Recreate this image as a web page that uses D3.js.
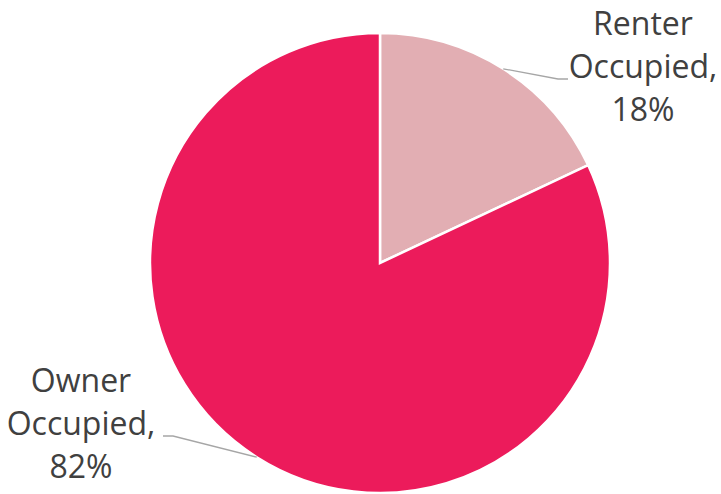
<!DOCTYPE html>
<html>
<head>
<meta charset="utf-8">
<script src="https://cdn.jsdelivr.net/npm/d3@7/dist/d3.min.js"></script>
<style>
  body { margin: 0; background: #fff; }
  text { font-family: "Open Sans", "Noto Sans", sans-serif; fill: #404040; }
</style>
</head>
<body>
<svg id="chart" width="721" height="494"></svg>
<script>
// data
const categories = ["Renter Occupied", "Owner Occupied"]
const values = [18, 82]
const colors = ["#e2aeb3", "#ec1b5b"]

const svg = d3.select("#chart")
const cx = 380, cy = 263, radius = 230

const body = svg.append("g").attr("transform", `translate(${cx},${cy})`)

const pie = d3.pie().sort(null).value(d => d.value)
const arcs = pie(categories.map((c, i) => ({ name: c, value: values[i], color: colors[i] })))

const arc = d3.arc().innerRadius(0).outerRadius(radius)

body.selectAll("path")
  .data(arcs)
  .enter()
  .append("path")
  .attr("d", arc)
  .attr("fill", d => d.data.color)
  .attr("stroke", "#fff")
  .attr("stroke-width", 2.5)

// label placement (relative to centre): anchor x, first baseline, leader end
const labelPos = [
  { x: 263, y: -228, lx: 178, ly: -184, dir: 1 },
  { x: -299, y: 129, lx: -207, ly: 173, dir: -1 }
]

arcs.forEach((d, i) => {
  const mid = (d.startAngle + d.endAngle) / 2
  const sx = Math.sin(mid) * radius, sy = -Math.cos(mid) * radius
  const p = labelPos[i]
  body.append("polyline")
    .attr("points", [[sx, sy], [p.lx, p.ly], [p.lx + p.dir * 10, p.ly]].map(q => q.join(",")).join(" "))
    .attr("fill", "none")
    .attr("stroke", "#a6a6a6")
    .attr("stroke-width", 1.3)

  const name = d.data.name.split(" ")
  const lines = [name[0], name[1] + ",", d.data.value + "%"]
  const t = body.append("text")
    .attr("text-anchor", "middle")
    .style("font-size", "32px")
  lines.forEach((l, j) => {
    t.append("tspan").attr("x", p.x).attr("y", p.y + j * 43).text(l)
  })
})
</script>
</body>
</html>
